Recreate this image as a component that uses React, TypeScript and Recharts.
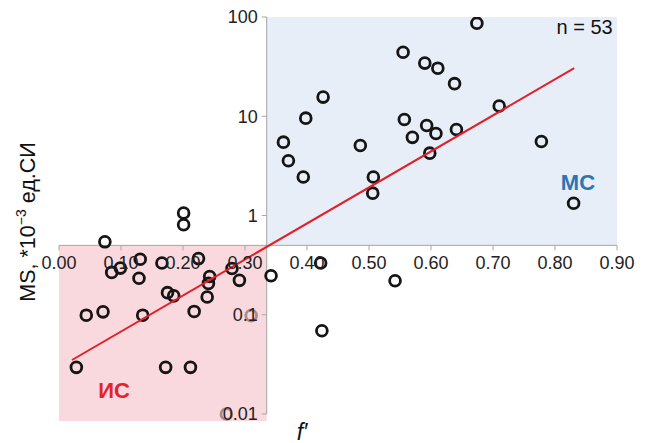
import {
  ScatterChart,
  Scatter,
  XAxis,
  YAxis,
  ReferenceArea,
  ReferenceDot,
} from "recharts";

// f' (x) and MS (y, log) for each sample
const fValues = [
  0.201, 0.201, 0.074, 0.085, 0.099, 0.131, 0.129, 0.166, 0.175, 0.185,
  0.225, 0.243, 0.241, 0.239, 0.279, 0.291, 0.342, 0.044, 0.071, 0.135,
  0.218, 0.424, 0.028, 0.172, 0.212, 0.422, 0.542, 0.83, 0.426, 0.398,
  0.362, 0.37, 0.394, 0.486, 0.507, 0.506, 0.557, 0.57, 0.593, 0.608,
  0.598, 0.641, 0.674, 0.555, 0.59, 0.611, 0.638, 0.71, 0.778,
];
const msValues = [
  1.06, 0.806, 0.543, 0.267, 0.295, 0.362, 0.233, 0.332, 0.167, 0.155,
  0.368, 0.243, 0.207, 0.151, 0.292, 0.222, 0.247, 0.099, 0.107, 0.099,
  0.108, 0.069, 0.0295, 0.0295, 0.0295, 0.332, 0.22, 1.33, 15.6, 9.57,
  5.48, 3.56, 2.44, 5.07, 2.44, 1.68, 9.26, 6.13, 8.06, 6.7,
  4.25, 7.35, 86.6, 44.2, 34.3, 30.5, 21.3, 12.7, 5.56,
];
// points partly hidden under tick labels
const faintF = [0.31, 0.27];
const faintMs = [0.098, 0.01];

// regression line end points
const fitF = [0.021, 0.831];
const fitMs = [0.035, 30.5];

const xTicks = [0, 0.1, 0.2, 0.3, 0.4, 0.5, 0.6, 0.7, 0.8, 0.9];
const xTickLabels = ["0.00", "0.10", "0.20", "0.30", "0.40", "0.50", "0.60", "0.70", "0.80", "0.90"];
const yTicks = [0.01, 0.1, 1, 10, 100];
const yTickLabels = ["0.01", "0.1", "1", "10", "100"];

const X_CROSS = 0.335;
const Y_CROSS = 0.5;
const Y_MIN = 0.0085;

const FONT = '"Liberation Sans", Arial, sans-serif';
const AXIS = "#a6a6a6";

const points = fValues.map((f, i) => ({ f, ms: msValues[i] }));
const faint = faintF.map((f, i) => ({ f, ms: faintMs[i] }));
const fit = fitF.map((f, i) => ({ f, ms: fitMs[i] }));

const ring = (color: string, opacity = 1) => (p: any) => (
  <circle
    cx={p.cx}
    cy={p.cy}
    r={5.4}
    fill="none"
    stroke={color}
    strokeWidth={2.8}
    opacity={opacity}
  />
);

const xTickMark = (p: any) => (
  <line x1={p.cx} y1={p.cy} x2={p.cx} y2={p.cy + 5} stroke={AXIS} strokeWidth={1} />
);
const yTickMark = (p: any) => (
  <line x1={p.cx - 5} y1={p.cy} x2={p.cx} y2={p.cy} stroke={AXIS} strokeWidth={1} />
);
const noShape = () => <g />;

export default function App() {
  return (
    <div style={{ position: "absolute", left: 0, top: 0, width: 652, height: 443, fontFamily: FONT }}>
      <ScatterChart
        width={652}
        height={443}
        margin={{ top: 17, right: 35, bottom: 22, left: 59 }}
      >
        <XAxis dataKey="f" type="number" domain={[0, 0.9]} hide height={0} />
        <YAxis
          dataKey="ms"
          type="number"
          scale="log"
          domain={[Y_MIN, 100]}
          allowDataOverflow
          hide
          width={0}
        />
        <ReferenceArea x1={X_CROSS} x2={0.9} y1={Y_CROSS} y2={100} fill="#e7eef8" fillOpacity={1} stroke="none" />
        <ReferenceArea x1={0} x2={X_CROSS} y1={Y_MIN} y2={Y_CROSS} fill="#f9d9dd" fillOpacity={1} stroke="none" />

        <Scatter data={faint} shape={ring("#6b4a45", 0.55)} isAnimationActive={false} />

        {/* axis lines */}
        <Scatter
          data={[{ f: 0, ms: Y_CROSS }, { f: 0.9, ms: Y_CROSS }]}
          line={{ stroke: AXIS, strokeWidth: 1 }}
          shape={noShape}
          isAnimationActive={false}
        />
        <Scatter
          data={[{ f: X_CROSS, ms: 0.01 }, { f: X_CROSS, ms: 100 }]}
          line={{ stroke: AXIS, strokeWidth: 1 }}
          shape={noShape}
          isAnimationActive={false}
        />

        {xTicks.map((t, i) => (
          <ReferenceDot
            key={"xt" + i}
            x={t}
            y={Y_CROSS}
            r={0}
            shape={xTickMark}
            label={{
              value: xTickLabels[i],
              position: "bottom",
              offset: 11,
              fill: "#222",
              fontSize: 18,
              fontFamily: FONT,
            }}
          />
        ))}
        {yTicks.map((t, i) => (
          <ReferenceDot
            key={"yt" + i}
            x={X_CROSS}
            y={t}
            r={0}
            shape={yTickMark}
            label={{
              value: yTickLabels[i],
              position: "left",
              offset: 9,
              fill: "#222",
              fontSize: 18,
              fontFamily: FONT,
            }}
          />
        ))}

        <ReferenceDot
          x={0.893}
          y={80}
          r={0}
          shape={noShape}
          label={{ value: "n = 53", position: "left", offset: 0, fill: "#111", fontSize: 20, fontFamily: FONT }}
        />
        <ReferenceDot
          x={0.837}
          y={2.17}
          r={0}
          shape={noShape}
          label={{ value: "МС", position: "center", fill: "#2e74b5", fontSize: 22, fontWeight: "bold", fontFamily: FONT }}
        />
        <ReferenceDot
          x={0.0887}
          y={0.0173}
          r={0}
          shape={noShape}
          label={{ value: "ИС", position: "center", fill: "#e3232b", fontSize: 22, fontWeight: "bold", fontFamily: FONT }}
        />

        <Scatter data={points} shape={ring("#151515")} isAnimationActive={false} />
        <Scatter
          data={fit}
          line={{ stroke: "#e0202a", strokeWidth: 2 }}
          shape={noShape}
          isAnimationActive={false}
        />
      </ScatterChart>
      <div
        style={{
          position: "absolute",
          left: 27,
          top: 222,
          transform: "translate(-50%, -50%) rotate(-90deg)",
          whiteSpace: "nowrap",
          fontSize: 21.5,
          color: "#111",
        }}
      >
        MS, *10<sup style={{ fontSize: "0.65em" }}>−3</sup> ед.СИ
      </div>
      <div
        style={{
          position: "absolute",
          left: 302,
          top: 432,
          transform: "translate(-50%, -50%)",
          fontSize: 23,
          fontStyle: "italic",
          color: "#111",
        }}
      >
        f′
      </div>
    </div>
  );
}
